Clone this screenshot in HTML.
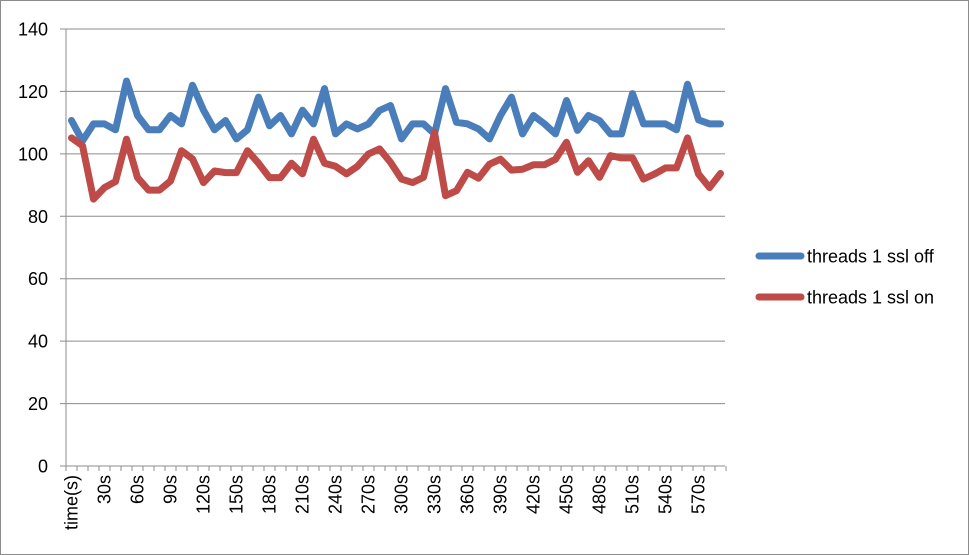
<!DOCTYPE html>
<html><head><meta charset="utf-8"><style>
html,body{margin:0;padding:0;background:#fff;}
svg{display:block;font-family:"Liberation Sans",sans-serif;}
</style></head><body>
<svg id="c" width="969" height="555" xmlns="http://www.w3.org/2000/svg"></svg>
<script>
var blue=[110.7,104.2,109.6,109.6,107.7,123.3,112.3,107.7,107.7,112.3,109.6,122,114,107.7,110.7,104.8,107.7,118.2,109,112.3,106.4,114,109.6,120.9,106.4,109.6,108,109.6,113.9,115.5,104.8,109.6,109.6,106.4,120.9,110.1,109.6,108,104.8,112.3,118.2,106.4,112.3,109.6,106.4,117.1,107.5,112.3,110.7,106.4,106.4,119.3,109.6,109.6,109.6,107.7,122.3,110.9,109.6,109.6];
var red=[105.1,102.6,85.5,89.2,91.1,104.7,92.4,88.4,88.4,91.3,101,98.4,90.8,94.5,94,94,101,97,92.4,92.4,97,93.6,104.7,97,96,93.6,96,100,101.6,97.3,91.9,90.8,92.5,106.9,86.6,88.2,94.1,92.2,96.7,98.3,94.8,95.1,96.5,96.5,98.3,103.7,94.1,97.8,92.5,99.4,98.7,98.7,91.9,93.5,95.5,95.5,105.1,93.5,89.2,93.7];
var s='<rect x="0.5" y="0.5" width="968" height="554" fill="#fff" stroke="#8c8c8c"/>';
function Y(v){return 466-v*3.1214;}
for(var g=0;g<=7;g++){var y=Y(g*20);
 s+='<line x1="60" y1="'+y+'" x2="725" y2="'+y+'" stroke="#8c8c8c" stroke-width="1"/>';
 s+='<text x="48" y="'+(y+6.5)+'" text-anchor="end" font-size="18" fill="#000">'+(g*20)+'</text>';}
s+='<line x1="66" y1="29" x2="66" y2="471" stroke="#8c8c8c"/>';
for(var k=0;k<=60;k++){var x=66+11*k;s+='<line x1="'+x+'" y1="466" x2="'+x+'" y2="471" stroke="#8c8c8c"/>';}
for(var i=0;i<60;i+=3){var x=71.5+11*i;var t=i==0?'time(s)':(i*10)+'s';
 s+='<text transform="translate('+(x+6)+',475) rotate(-90)" text-anchor="end" font-size="18" fill="#000">'+t+'</text>';}
function P(a){return a.map(function(v,i){return (71.5+11*i).toFixed(1)+','+Y(v).toFixed(1)}).join(' ');}
s+='<polyline points="'+P(blue)+'" fill="none" stroke="#4a7ebb" stroke-width="7" stroke-linejoin="round" stroke-linecap="round"/>';
s+='<polyline points="'+P(red)+'" fill="none" stroke="#be4b48" stroke-width="7" stroke-linejoin="round" stroke-linecap="round"/>';
s+='<line x1="759" y1="256" x2="801" y2="256" stroke="#4a7ebb" stroke-width="7" stroke-linecap="round"/>';
s+='<text x="807" y="262.5" font-size="18" fill="#000">threads 1 ssl off</text>';
s+='<line x1="759" y1="297" x2="801" y2="297" stroke="#be4b48" stroke-width="7" stroke-linecap="round"/>';
s+='<text x="807" y="303.5" font-size="18" fill="#000">threads 1 ssl on</text>';
document.getElementById('c').innerHTML=s;
</script>
</body></html>
